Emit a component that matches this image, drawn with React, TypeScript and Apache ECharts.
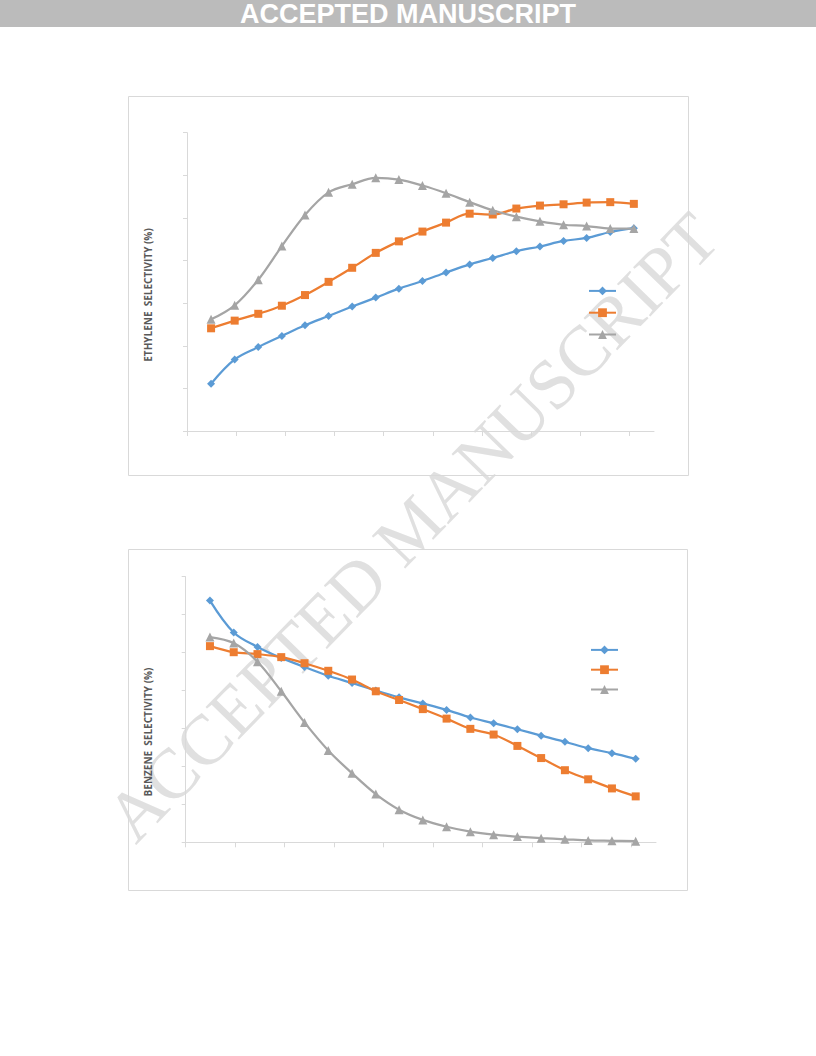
import React, { useEffect, useRef } from "react";
import * as echarts from "echarts";

// x positions of the 19 measurement points (axis runs 0–9.5, ticks every 1)
const xValues = [0.49, 0.97, 1.45, 1.93, 2.4, 2.88, 3.36, 3.84, 4.31, 4.79, 5.27, 5.75, 6.22, 6.7, 7.18, 7.66, 8.13, 8.61, 9.09];
const xTickValues = [0, 1, 2, 3, 4, 5, 6, 7, 8, 9];

// Ethylene selectivity (%)
const ethyleneA = [11.1, 16.8, 19.7, 22.3, 24.8, 27.0, 29.2, 31.3, 33.4, 35.2, 37.2, 39.1, 40.6, 42.2, 43.3, 44.6, 45.3, 46.7, 47.6];
const ethyleneB = [24.1, 25.9, 27.5, 29.4, 31.9, 35.0, 38.3, 41.8, 44.5, 46.8, 48.9, 51.0, 50.8, 52.2, 52.9, 53.2, 53.6, 53.7, 53.3];
const ethyleneC = [26.2, 29.5, 35.5, 43.4, 50.7, 56.0, 57.9, 59.4, 59.0, 57.6, 55.8, 53.7, 51.8, 50.3, 49.2, 48.4, 48.1, 47.5, 47.5];

// Benzene selectivity (%)
const benzeneA = [63.7, 55.3, 51.5, 48.6, 46.2, 43.9, 42.0, 40.0, 38.2, 36.6, 34.9, 32.9, 31.4, 29.8, 28.1, 26.5, 24.8, 23.5, 22.0];
const benzeneB = [51.7, 50.1, 49.6, 48.8, 47.2, 45.2, 42.9, 39.8, 37.5, 35.1, 32.6, 29.9, 28.4, 25.4, 22.2, 19.0, 16.6, 14.2, 12.1];
const benzeneC = [54.1, 52.5, 47.6, 39.8, 31.6, 24.2, 18.2, 12.7, 8.6, 5.9, 4.1, 2.8, 2.0, 1.5, 1.1, 0.8, 0.5, 0.4, 0.3];

const seriesNames1 = ["Ethylene 1", "Ethylene 2", "Ethylene 3"];
const seriesNames2 = ["Benzene 1", "Benzene 2", "Benzene 3"];
const yTitles = ["ETHYLENE  SELECTIVITY (%)", "BENZENE  SELECTIVITY (%)"];
const headerText = "ACCEPTED MANUSCRIPT";
const watermarkText = "ACCEPTED MANUSCRIPT";

const COLORS = ["#5B9BD5", "#ED7D31", "#A5A5A5"];
const SYMBOLS = ["diamond", "rect", "triangle"];
const SYMBOL_SIZES = [8, 8, 9];
const AXIS_COLOR = "#D9D9D9";

function pairs(ys: number[]) {
  return ys.map((y, i) => [xValues[i], y]);
}

function makeSeries(names: string[], datasets: number[][], idx: number) {
  return datasets.map((ys, k) => ({
    name: names[k],
    type: "line",
    xAxisIndex: idx,
    yAxisIndex: idx,
    data: pairs(ys),
    smooth: 0.35,
    symbol: SYMBOLS[k],
    symbolSize: SYMBOL_SIZES[k],
    showSymbol: true,
    lineStyle: { color: COLORS[k], width: 2.25 },
    itemStyle: { color: COLORS[k], borderWidth: 0 },
    z: 2 + k,
  }));
}

function xAxisOpt(idx: number) {
  return {
    gridIndex: idx,
    type: "value",
    min: 0,
    max: 9.5,
    interval: 1,
    axisLine: { show: true, lineStyle: { color: AXIS_COLOR, width: 1 } },
    axisTick: { show: true, inside: false, length: 5, lineStyle: { color: AXIS_COLOR }, customValues: xTickValues },
    axisLabel: { show: false },
    splitLine: { show: false },
  };
}

function yAxisOpt(idx: number) {
  return {
    gridIndex: idx,
    type: "value",
    min: 0,
    max: 70,
    interval: 10,
    axisLine: { show: true, lineStyle: { color: AXIS_COLOR, width: 1 } },
    axisTick: { show: true, inside: false, length: 4, lineStyle: { color: AXIS_COLOR } },
    axisLabel: { show: false },
    splitLine: { show: false },
  };
}

function legendOpt(names: string[], left: number, top: number, gap: number) {
  return {
    data: names,
    orient: "vertical",
    left,
    top,
    padding: 0,
    itemWidth: 27,
    itemHeight: 11,
    itemGap: gap,
    selectedMode: false,
    formatter: () => "",
    textStyle: { fontSize: 8, lineHeight: 11 },
  };
}

export default function App() {
  const ref = useRef<HTMLDivElement>(null);
  useEffect(() => {
    if (!ref.current) return;
    const chart = echarts.init(ref.current, undefined, { renderer: "svg" });
    chart.setOption({
      animation: false,
      backgroundColor: "#FFFFFF",
      grid: [
        { left: 187, top: 132.7, width: 467, height: 298.3, containLabel: false },
        { left: 185.7, top: 576.7, width: 470.3, height: 265.6, containLabel: false },
      ],
      xAxis: [xAxisOpt(0), xAxisOpt(1)],
      yAxis: [yAxisOpt(0), yAxisOpt(1)],
      legend: [legendOpt(seriesNames1, 588, 286.5, 13), legendOpt(seriesNames2, 590, 645.5, 11)],
      series: [
        ...makeSeries(seriesNames1, [ethyleneA, ethyleneB, ethyleneC], 0),
        ...makeSeries(seriesNames2, [benzeneA, benzeneB, benzeneC], 1),
      ],
      graphic: [
        {
          type: "text",
          z: -1,
          x: 412,
          y: 527,
          rotation: 0.8,
          style: {
            text: watermarkText,
            fontFamily: "Liberation Serif",
            fontSize: 71,
            fill: "#E0E0E0",
            textAlign: "center",
            textVerticalAlign: "middle",
          },
        },
        { type: "rect", z: 0, shape: { x: 0, y: 0, width: 816, height: 27 }, style: { fill: "#BBBBBB" } },
        {
          type: "text",
          z: 1,
          x: 408,
          y: 14,
          style: {
            text: headerText,
            fontFamily: "Liberation Sans",
            fontWeight: "bold",
            fontSize: 27,
            fill: "#FFFFFF",
            textAlign: "center",
            textVerticalAlign: "middle",
          },
        },
        { type: "rect", z: 0, shape: { x: 128.5, y: 96.5, width: 560, height: 379 }, style: { fill: "none", stroke: AXIS_COLOR, lineWidth: 1 } },
        { type: "rect", z: 0, shape: { x: 128.5, y: 549.5, width: 559, height: 341 }, style: { fill: "none", stroke: AXIS_COLOR, lineWidth: 1 } },
        {
          type: "text",
          z: 1,
          x: 148,
          y: 295,
          rotation: Math.PI / 2,
          style: {
            text: yTitles[0],
            fontFamily: "Open Sans",
            fontWeight: "bold",
            fontSize: 10,
            fill: "#595959",
            textAlign: "center",
            textVerticalAlign: "middle",
          },
        },
        {
          type: "text",
          z: 1,
          x: 148,
          y: 732,
          rotation: Math.PI / 2,
          style: {
            text: yTitles[1],
            fontFamily: "Open Sans",
            fontWeight: "bold",
            fontSize: 10,
            fill: "#595959",
            textAlign: "center",
            textVerticalAlign: "middle",
          },
        },
      ],
    });
    return () => chart.dispose();
  }, []);
  return <div ref={ref} style={{ position: "absolute", left: 0, top: 0, width: 816, height: 1056 }} />;
}
